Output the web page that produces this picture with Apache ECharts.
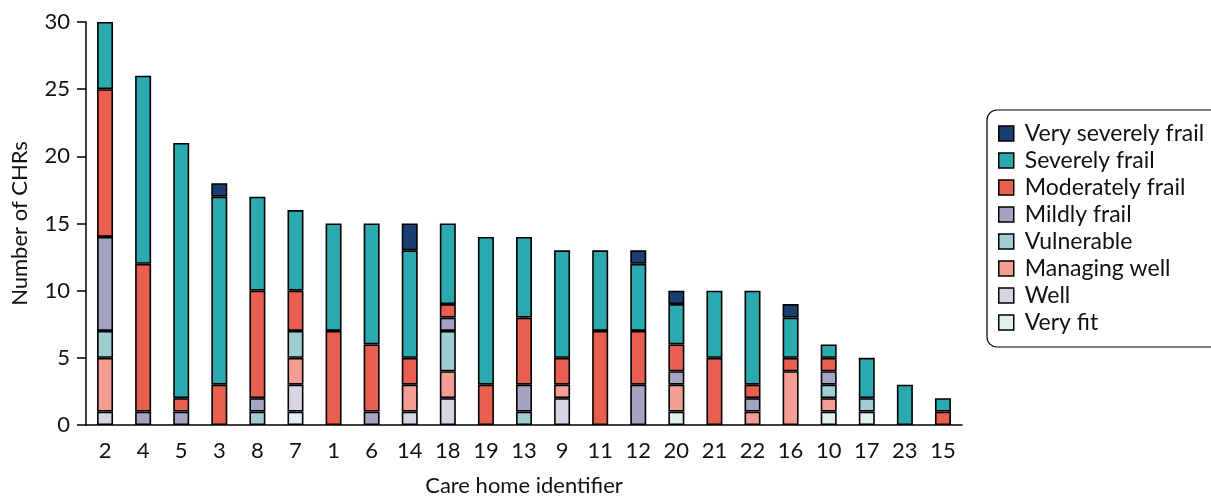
<!DOCTYPE html>
<html>
<head>
<meta charset="utf-8">
<script src="https://cdn.jsdelivr.net/npm/echarts@6/dist/echarts.min.js"></script>
<style>html,body{margin:0;padding:0;background:#fff}#c{width:1211px;height:502px}</style>
</head>
<body>
<div id="c"></div>
<script>
const categories = ['2','4','5','3','8','7','1','6','14','18','19','13','9','11','12','20','21','22','16','10','17','23','15'];
const veryFit          = [0,0,0,0,0,1,0,0,0,0,0,0,0,0,0,1,0,0,0,1,1,0,0];
const well             = [1,0,0,0,0,2,0,0,1,2,0,0,2,0,0,0,0,0,0,0,0,0,0];
const managingWell     = [4,0,0,0,0,2,0,0,2,2,0,0,1,0,0,2,0,1,4,1,0,0,0];
const vulnerable       = [2,0,0,0,1,2,0,0,0,3,0,1,0,0,0,0,0,0,0,1,1,0,0];
const mildlyFrail      = [7,1,1,0,1,0,0,1,0,1,0,2,0,0,3,1,0,1,0,1,0,0,0];
const moderatelyFrail  = [11,11,1,3,8,3,7,5,2,1,3,5,2,7,4,2,5,1,1,1,0,0,1];
const severelyFrail    = [5,14,19,14,7,6,8,9,8,6,11,6,8,6,5,3,5,7,3,1,3,3,1];
const verySeverelyFrail= [0,0,0,1,0,0,0,0,2,0,0,0,0,0,1,1,0,0,1,0,0,0,0];
const yTicks = [0,5,10,15,20,25,30];

const seriesDefs = [
  ['Very fit', veryFit, '#e0f0f0'],
  ['Well', well, '#d5d5e3'],
  ['Managing well', managingWell, '#f29e94'],
  ['Vulnerable', vulnerable, '#9fcdd0'],
  ['Mildly frail', mildlyFrail, '#a3a3c2'],
  ['Moderately frail', moderatelyFrail, '#e85f50'],
  ['Severely frail', severelyFrail, '#2aa9ae'],
  ['Very severely frail', verySeverelyFrail, '#1b3f73']
];

const chart = echarts.init(document.getElementById('c'), null, {renderer:'canvas'});
const font = 'Lato';
chart.setOption({
  animation: false,
  textStyle: {fontFamily: font},
  grid: {left: 86, right: 249, top: 22, bottom: 68, containLabel: false},
  legend: {
    orient: 'vertical', left: 987, top: 110,
    data: seriesDefs.map(d => d[0]).reverse(),
    icon: 'rect',
    itemWidth: 15, itemHeight: 15, itemGap: 4,
    padding: [12, 40, 13, 11],
    borderColor: '#000', borderWidth: 1.2, borderRadius: 10,
    textStyle: {fontFamily: font, fontSize: 23, color: '#111', padding: [0,0,0,6]},
    itemStyle: {borderColor: '#000', borderWidth: 1.5}
  },
  xAxis: {
    type: 'category', data: categories,
    name: 'Care home identifier', nameLocation: 'middle', nameGap: 50,
    nameTextStyle: {fontFamily: font, fontSize: 22, color: '#111'},
    axisLine: {lineStyle: {color: '#000', width: 1.5}},
    axisTick: {alignWithLabel: true, length: 8, lineStyle: {color: '#000', width: 1.5}},
    axisLabel: {fontFamily: font, fontSize: 22, color: '#111', margin: 15, interval: 0}
  },
  yAxis: {
    type: 'value', min: 0, max: 30, interval: 5,
    name: 'Number of CHRs', nameLocation: 'middle', nameGap: 55, nameRotate: 90,
    nameTextStyle: {fontFamily: font, fontSize: 22, color: '#111'},
    axisLine: {show: true, lineStyle: {color: '#000', width: 1.5}},
    axisTick: {show: true, length: 9, lineStyle: {color: '#000', width: 1.5}},
    axisLabel: {fontFamily: font, fontSize: 22, color: '#111', margin: 16,
      formatter: v => yTicks.includes(v) ? String(v) : ''},
    splitLine: {show: false}
  },
  series: seriesDefs.map(d => ({
    name: d[0], type: 'bar', stack: 'total', barWidth: 16,
    data: d[1].map(v => v === 0 ? '-' : v),
    itemStyle: {color: d[2], borderColor: '#000', borderWidth: 1.6}
  }))
});
</script>
</body>
</html>
